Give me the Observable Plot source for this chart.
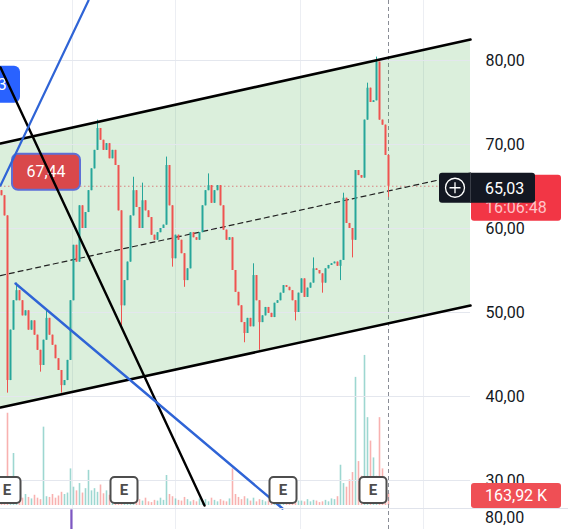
<!DOCTYPE html>
<html><head><meta charset="utf-8">
<script src="https://cdn.jsdelivr.net/npm/d3@7"></script>
<script src="https://cdn.jsdelivr.net/npm/@observablehq/plot@0.6"></script>
<style>
html,body{margin:0;padding:0;background:#fff;overflow:hidden;}
#wrap{position:relative;width:568px;height:529px;overflow:hidden;background:#fff;}
#wrap svg{position:absolute;left:0;top:0;}
</style></head><body><div id="wrap"></div>
<script>
// ---- data ----
const firstOpen = 64.5;
const closes = [
 63.9, 61.5, 41.9, 47.9, 51.4, 52.6, 51.4, 49.6, 50.2, 47.9,
 49.0, 47.3, 45.5, 43.7, 46.7, 49.3, 47.3, 46.1, 44.5, 43.1,
 41.3, 41.9, 44.3, 51.4, 58.0, 56.0, 62.7, 60.0, 61.9, 64.5,
 67.1, 69.3, 71.9, 70.5, 69.3, 70.1, 68.3, 69.3, 67.5, 62.1,
 50.8, 53.8, 56.0, 61.5, 64.5, 62.5, 60.0, 63.3, 62.1, 61.3,
 59.2, 58.6, 59.5, 60.0, 60.4, 67.5, 62.7, 56.4, 59.2, 58.6,
 57.0, 53.8, 55.2, 59.5, 58.9, 58.6, 59.5, 62.7, 64.5, 65.1,
 63.0, 64.5, 65.1, 62.7, 59.8, 58.6, 58.9, 55.0, 52.4, 50.8,
 48.8, 47.5, 49.3, 48.3, 54.4, 51.4, 48.8, 49.6, 50.6, 49.9,
 49.4, 51.1, 51.4, 52.3, 53.2, 53.0, 52.6, 51.4, 50.0, 52.3,
 54.0, 51.8, 52.9, 53.5, 55.2, 55.0, 54.6, 53.5, 55.2, 55.6,
 55.8, 56.0, 55.5, 56.2, 63.6, 60.6, 60.0, 58.6, 66.9, 66.3,
 66.0, 72.9, 76.7, 75.0, 75.2, 79.8, 72.9, 72.3, 68.7, 65.03
];
const wickHighs = [[5,53.5],[15,50.2],[32,72.9],[44,66.1],[47,65.4],[55,68.5],[69,66.5],[84,55.8],[104,56.5],[114,64.2],[122,77.3],[125,80.4]];
const wickLows = [[2,40.4],[13,42.9],[20,40.4],[40,48.2],[57,55.4],[61,53.0],[81,46.4],[86,45.5],[98,49.0],[107,52.3],[113,53.8],[117,56.5],[129,63.7]];
const volumes = [
 90, 120, 1260, 150, 710, 90, 130, 100, 150, 110,
 90, 140, 100, 80, 1070, 120, 110, 150, 100, 130,
 180, 150, 170, 500, 250, 200, 300, 170, 230, 480,
 200, 230, 180, 280, 160, 200, 140, 230, 170, 200,
 130, 90, 70, 110, 60, 50, 80, 60, 100, 50,
 40, 70, 60, 100, 70, 410, 150, 120, 90, 70,
 60, 110, 80, 50, 70, 50, 90, 60, 80, 50,
 100, 70, 50, 80, 60, 50, 90, 500, 150, 110,
 80, 120, 90, 60, 100, 50, 80, 70, 50, 60,
 80, 50, 70, 90, 60, 50, 70, 50, 40, 60,
 60, 50, 80, 50, 70, 60, 40, 50, 70, 50,
 90, 80, 120, 550, 300, 250, 350, 450, 1750, 600,
 400, 2050, 1200, 880, 650, 400, 1200, 500, 300, 163.92
];
const earnings = [2, 41, 94, 124];
const timeGrid = [23.67, 58, 99.67, 140.67];
const priceTicks = [30, 40, 50, 60, 70, 80];
const lastPrice = 65.03;
const lastVolumeLabel = "163,92 K";
const countdown = "16:06:48";
const channelTop = [{i:-0.33, p:70.12}, {i:156.33, p:82.5}];
const channelBottom = [{i:-0.33, p:38.69}, {i:156.33, p:50.83}];
const channelMid = [{i:-0.33, p:54.4}, {i:156.33, p:66.6}];
const blackLine = [{i:-0.33, p:79.17}, {i:67.67, p:27.02}];
const blueUp = [{i:-0.33, p:65.12}, {i:29, p:87.14}];
const blueDown = [{i:4.67, p:53.45}, {i:93.67, p:26.67}];
const noteLabel = {i:15, p:66.7, text:"67,44"};
const pinLabel = {i:3, p:77.1, text:"3"};
const lastBar = 129;
const purpleMark = 23.3;

// ---- build ----
const upCol = "#26a69a", downCol = "#ef5350";
const bars = closes.map((c, i) => {
  const o = i === 0 ? firstOpen : closes[i - 1];
  return {i, o, c, hi: Math.max(o, c), lo: Math.min(o, c), v: volumes[i], col: c >= o ? upCol : downCol};
});
for (const [i, p] of wickHighs) bars[i].hi = Math.max(bars[i].hi, p);
for (const [i, p] of wickLows) bars[i].lo = Math.min(bars[i].lo, p);
const channel = [{i:channelTop[0].i, lo:channelBottom[0].p, hi:channelTop[0].p}, {i:channelTop[1].i, lo:channelBottom[1].p, hi:channelTop[1].p}];

const xDomain = [-1/3, 469/3];
const yDomain = [26.67, 87.14];
const fmt = d => d.toFixed(2).replace(".", ",");
const wrap = document.getElementById("wrap");

const volPlot = Plot.plot({
  width: 568, height: 529, marginTop: 0, marginBottom: 0, marginLeft: 0, marginRight: 98,
  style: {background: "transparent"},
  x: {domain: xDomain, axis: null},
  y: {domain: [-24 * 13.66, 505 * 13.66], axis: null},
  color: {type: "identity"},
  marks: [
    Plot.ruleX(timeGrid, {stroke: "#eceef3", strokeWidth: 1}),
    Plot.ruleX(bars, {x: "i", y1: 0, y2: "v", stroke: "col", strokeOpacity: 0.45, strokeWidth: 1.6}),
    Plot.ruleX([lastBar], {stroke: "#8a8d96", strokeDasharray: "4,3", strokeWidth: 1}),
    Plot.ruleX([purpleMark], {y1: -60, y2: -400, stroke: "#7e57c2", strokeWidth: 2.2})
  ]
});
wrap.appendChild(volPlot);

const pricePlot = Plot.plot({
  width: 568, height: 529, marginTop: 0, marginBottom: 21, marginLeft: 0, marginRight: 98,
  style: {background: "transparent", fontFamily: "Roboto, sans-serif", color: "#131722"},
  x: {domain: xDomain, axis: null},
  y: {domain: yDomain, axis: null},
  color: {type: "identity"},
  marks: [
    Plot.areaY(channel, {x: "i", y1: "lo", y2: "hi", fill: "#4caf50", fillOpacity: 0.2}),
    Plot.gridY(priceTicks, {stroke: "#e4e7ee", strokeOpacity: 1}),
    Plot.axisY(priceTicks, {anchor: "right", tickSize: 0, tickPadding: 15, tickFormat: fmt, fontSize: 16, textAnchor: "start", fill: "#131722"}),
    Plot.ruleY([lastPrice], {stroke: "#d9807f", strokeDasharray: "1.5,2.5", strokeWidth: 1}),
    Plot.line(channelMid, {x: "i", y: "p", stroke: "#222", strokeWidth: 1.2, strokeDasharray: "5,4"}),
    Plot.ruleX(bars, {x: "i", y1: "lo", y2: "hi", stroke: "col", strokeWidth: 1}),
    Plot.ruleX(bars, {x: "i", y1: "o", y2: "c", stroke: "col", strokeWidth: 2}),
    Plot.line(channelTop, {x: "i", y: "p", stroke: "#000", strokeWidth: 2.6}),
    Plot.line(channelBottom, {x: "i", y: "p", stroke: "#000", strokeWidth: 2.6}),
    Plot.line(blackLine, {x: "i", y: "p", stroke: "#000", strokeWidth: 2.4}),
    Plot.line(blueUp, {x: "i", y: "p", stroke: "#2f64d6", strokeWidth: 2.2}),
    Plot.line(blueDown, {x: "i", y: "p", stroke: "#2f64d6", strokeWidth: 2.4})
  ]
});
wrap.appendChild(pricePlot);

// scales for annotations
let X, Y;
try { X = pricePlot.scale("x").apply; Y = pricePlot.scale("y").apply; X(0); } catch (e) {
  X = d3.scaleLinear(xDomain, [0, 470]); Y = d3.scaleLinear(yDomain, [508, 0]);
}
const svgSel = d3.select(pricePlot);
const font = "Roboto, sans-serif";

// labels drawn under the trend lines
const firstLine = pricePlot.querySelector('g[aria-label="line"]');
const underG = d3.select(pricePlot.insertBefore(document.createElementNS("http://www.w3.org/2000/svg", "g"), firstLine));
{
  const cx = X(pinLabel.i), cy = Y(pinLabel.p);
  underG.append("rect").attr("x", cx - 40).attr("y", cy - 18.5).attr("width", 50).attr("height", 37).attr("rx", 6).attr("fill", "#2962ff");
  underG.append("text").attr("x", cx - 8).attr("y", cy).attr("dy", "0.35em").attr("text-anchor", "middle")
    .attr("fill", "#fff").attr("font-family", font).attr("font-size", 17).text(pinLabel.text);
  const nx = X(noteLabel.i), ny = Y(noteLabel.p);
  underG.append("rect").attr("x", nx - 34).attr("y", ny - 18).attr("width", 68).attr("height", 36).attr("rx", 6)
    .attr("fill", "#d9484b").attr("stroke", "#5e6fd6").attr("stroke-width", 2);
  underG.append("text").attr("x", nx).attr("y", ny).attr("dy", "0.36em").attr("text-anchor", "middle")
    .attr("fill", "#fff").attr("font-family", font).attr("font-size", 16).text(noteLabel.text);
}

const overG = svgSel.append("g").attr("text-anchor", "start");
overG.append("line").attr("x1", 0).attr("x2", 568).attr("y1", 508.5).attr("y2", 508.5).attr("stroke", "#e0e3eb");
overG.append("text").attr("x", 485).attr("y", 517).attr("dy", "0.35em").attr("text-anchor", "start").attr("fill", "#131722")
  .attr("font-family", font).attr("font-size", 16).text(fmt(80));

for (const e of earnings) {
  const ex = X(e);
  overG.append("rect").attr("x", ex - 13.5).attr("y", 477).attr("width", 27).attr("height", 26).attr("rx", 4)
    .attr("fill", "#fff").attr("stroke", "#4d4d4d").attr("stroke-width", 2);
  overG.append("text").attr("x", ex).attr("y", 490).attr("dy", "0.36em").attr("text-anchor", "middle")
    .attr("fill", "#4d4d4d").attr("font-family", font).attr("font-weight", 700).attr("font-size", 15).text("E");
}

const py = Y(lastPrice);
overG.append("rect").attr("x", 471).attr("y", py - 11).attr("width", 90).attr("height", 46).attr("rx", 3).attr("fill", "#f23645");
overG.append("text").attr("x", 485).attr("y", py + 27).attr("text-anchor", "start").attr("fill", "#ffc4c8").attr("font-family", font).attr("font-size", 16).text(countdown);
overG.append("rect").attr("x", 439).attr("y", py - 13).attr("width", 96).attr("height", 30).attr("rx", 3).attr("fill", "#131722");
overG.append("line").attr("x1", 470.5).attr("x2", 470.5).attr("y1", py - 13).attr("y2", py + 17).attr("stroke", "#3a3e48");
overG.append("circle").attr("cx", 455).attr("cy", py + 2).attr("r", 9.5).attr("fill", "none").attr("stroke", "#fff").attr("stroke-width", 1.3);
overG.append("path").attr("d", `M449.5,${py + 2}H460.5M455,${py - 3.5}V${py + 7.5}`).attr("stroke", "#fff").attr("stroke-width", 1.3);
overG.append("text").attr("x", 485).attr("y", py + 2).attr("dy", "0.36em").attr("text-anchor", "start").attr("fill", "#fff").attr("font-family", font).attr("font-size", 16).text(fmt(lastPrice));

overG.append("rect").attr("x", 471).attr("y", 483).attr("width", 90).attr("height", 25).attr("rx", 3).attr("fill", "#ef4f55");
overG.append("text").attr("x", 485).attr("y", 495.5).attr("dy", "0.36em").attr("text-anchor", "start").attr("fill", "#fff").attr("font-family", font).attr("font-size", 16).text(lastVolumeLabel);
</script></body></html>
